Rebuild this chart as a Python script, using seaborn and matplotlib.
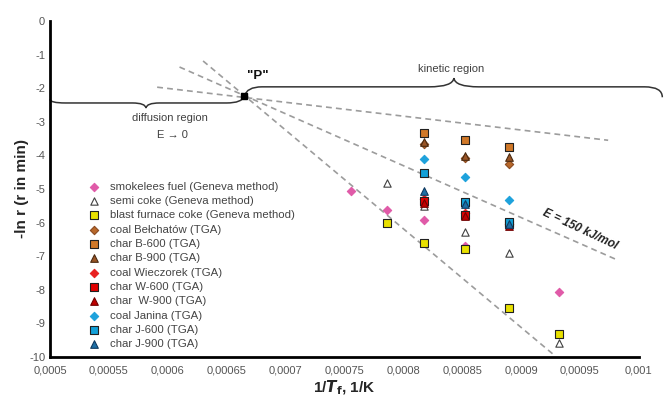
import matplotlib
matplotlib.use("Agg")
import matplotlib.pyplot as plt
import seaborn as sns
import numpy as np
import pandas as pd
from matplotlib.path import Path
from matplotlib.patches import PathPatch

sns.set_theme(style="white")
plt.rcParams['font.family'] = ['Liberation Sans', 'DejaVu Sans']

# ---- data ----
x_ticks = [0.0005, 0.00055, 0.0006, 0.00065, 0.0007, 0.00075, 0.0008, 0.00085, 0.0009, 0.00095, 0.001]
x_tick_labels = ["0,0005", "0,00055", "0,0006", "0,00065", "0,0007", "0,00075", "0,0008",
                 "0,00085", "0,0009", "0,00095", "0,001"]
y_ticks = [0, -1, -2, -3, -4, -5, -6, -7, -8, -9, -10]
y_tick_labels = ["0", "-1", "-2", "-3", "-4", "-5", "-6", "-7", "-8", "-9", "-10"]

x5 = [0.000756, 0.000786, 0.000818, 0.0008525, 0.000932]
x5b = [0.000786, 0.000818, 0.0008525, 0.00089, 0.000932]
x3 = [0.000818, 0.0008525, 0.00089]

smokeless_y = [-5.07, -5.62, -5.92, -6.70, -8.07]
semicoke_y = [-4.82, -5.50, -6.28, -6.90, -9.58]
bfcoke_y = [-6.01, -6.61, -6.80, -8.54, -9.32]
coalB_y = [-3.65, -4.08, -4.25]
charB600_y = [-3.33, -3.54, -3.75]
charB900_y = [-3.60, -4.02, -4.06]
coalW_y = [-5.30, -5.70, -6.05]
charW600_y = [-5.36, -5.76, -6.05]
charW900_y = [-5.42, -5.80, -6.10]
coalJ_y = [-4.11, -4.64, -5.33]
charJ600_y = [-4.52, -5.39, -5.98]
charJ900_y = [-5.06, -5.45, -6.05]

P_point = (0.000665, -2.24)
# dashed guide lines through P (start, end)
guide_x = [[0.000591, 0.000974], [0.00061, 0.000981], [0.00063, 0.000927]]
guide_y = [[-1.97, -3.55], [-1.37, -7.10], [-1.19, -9.91]]

series = [
    ("smokelees fuel (Geneva method)", x5, smokeless_y, "D", "#e05aa8", "#e05aa8", 18),
    ("semi coke (Geneva method)", x5b, semicoke_y, "^", "#ffffff", "#404040", 28),
    ("blast furnace coke (Geneva method)", x5b, bfcoke_y, "s", "#e8e000", "#202020", 32),
    ("coal Bełchatów (TGA)", x3, coalB_y, "D", "#b8682a", "#8a4a20", 18),
    ("char B-600 (TGA)", x3, charB600_y, "s", "#d07828", "#202020", 32),
    ("char B-900 (TGA)", x3, charB900_y, "^", "#9a5526", "#4a2a10", 30),
    ("coal Wieczorek (TGA)", x3, coalW_y, "D", "#e82020", "#e82020", 18),
    ("char W-600 (TGA)", x3, charW600_y, "s", "#e00000", "#202020", 32),
    ("char  W-900 (TGA)", x3, charW900_y, "^", "#c00000", "#700000", 30),
    ("coal Janina (TGA)", x3, coalJ_y, "D", "#1ea2dc", "#1ea2dc", 18),
    ("char J-600 (TGA)", x3, charJ600_y, "s", "#12a0d8", "#202020", 32),
    ("char J-900 (TGA)", x3, charJ900_y, "^", "#1d6fa5", "#103a60", 30),
]

fig = plt.figure(figsize=(6.64, 3.96), dpi=100)
ax = fig.add_axes([0.0753, 0.0985, 0.8867, 0.8485])

# guide lines
for gx, gy in zip(guide_x, guide_y):
    sns.lineplot(x=gx, y=gy, ax=ax, color="#9c9c9c", lw=1.2, linestyle=(0, (3.5, 2.5)), zorder=1)

for label, xs, ys, m, fc, ec, s in series:
    sns.scatterplot(x=xs, y=ys, ax=ax, marker=m, color=fc, edgecolor=ec, linewidth=0.8,
                    s=s, label=label, zorder=3)

# P point
ax.plot([P_point[0]], [P_point[1]], marker="s", color="black", ms=4.5, zorder=4)
ax.text(0.0006766, -1.64, '"P"', fontsize=9.5, fontweight="bold", ha="center", va="center", color="#111111")

# braces
def brace(verts, codes):
    p = Path(verts, codes)
    patch = PathPatch(p, fill=False, edgecolor="#333333", lw=1.1, clip_on=False, zorder=2)
    ax.add_patch(patch)

M, L, C = Path.MOVETO, Path.LINETO, Path.CURVE3
px, py = P_point
brace([(0.0005, -2.33), (0.0005, -2.44), (0.000513, -2.44),
       (0.000570, -2.44),
       (0.000581, -2.44), (0.0005815, -2.59),
       (0.000582, -2.44), (0.000593, -2.44),
       (0.000650, -2.44),
       (0.000663, -2.44), (px, py)],
      [M, C, C, L, C, C, C, C, L, C, C])
brace([(px, py), (0.000667, -1.96), (0.00068, -1.96),
       (0.000822, -1.96),
       (0.000842, -1.96), (0.000843, -1.70),
       (0.000844, -1.96), (0.000864, -1.96),
       (0.001005, -1.96),
       (0.00102, -1.96), (0.00102, -2.27)],
      [M, C, C, L, C, C, C, C, L, C, C])

ax.text(0.000602, -2.89, "diffusion region", fontsize=8, color="#404040", ha="center", va="center")
ax.text(0.000604, -3.40, "E \u2192 0", fontsize=8, color="#404040", ha="center", va="center")
ax.text(0.000841, -1.43, "kinetic region", fontsize=8, color="#404040", ha="center", va="center")
ax.text(0.000950, -6.2, "E = 150 kJ/mol", fontsize=8.5, fontweight="bold", fontstyle="italic",
        color="#222222", rotation=-25, ha="center", va="center", rotation_mode="anchor")

ax.set_xlim(0.0005, 0.001)
ax.set_ylim(-10, 0)
ax.set_xticks(x_ticks)
ax.set_xticklabels(x_tick_labels)
ax.set_yticks(y_ticks)
ax.set_yticklabels(y_tick_labels)
ax.tick_params(axis="both", direction="in", length=4, width=1.5, colors="black",
               labelcolor="#555555", labelsize=8)
ax.tick_params(axis="x", pad=6)
for side in ["top", "right"]:
    ax.spines[side].set_visible(False)
for side in ["left", "bottom"]:
    ax.spines[side].set_color("black")
    ax.spines[side].set_linewidth(2)

ax.set_xlabel(r"1/$\mathbfit{T}_\mathbf{f}$, 1/K", fontsize=11, fontweight="bold", labelpad=2)
ax.set_ylabel("-ln r (r in min)", fontsize=11, fontweight="bold", labelpad=0)

leg = ax.legend(loc="upper left", bbox_to_anchor=(0.058, 0.535), frameon=False, fontsize=8.2,
                labelspacing=0.38, handletextpad=0.9, borderaxespad=0, handlelength=1.0,
                labelcolor="#444444")

fig.savefig("out.png", dpi=100)
